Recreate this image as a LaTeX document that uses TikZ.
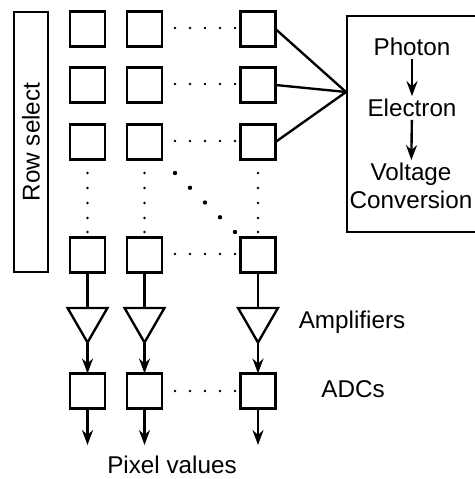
\documentclass[tikz,border=0pt]{standalone}
\usepackage{fontspec}
\setmainfont{Liberation Sans}
\usetikzlibrary{arrows.meta,positioning,shapes.geometric}

\begin{document}
\begin{tikzpicture}[x=0.02cm, y=-0.02cm, line width=1.35pt,
    font=\fontsize{13.8}{16}\selectfont,
    pix/.style={draw, minimum size=0.7cm, inner sep=0pt, outer sep=0pt},
    amp/.style={draw, regular polygon, regular polygon sides=3, shape border rotate=180,
                minimum size=0.92cm, inner sep=0pt, outer sep=0pt},
    sig/.style={-{Stealth[length=0.3cm, width=0.22cm, inset=0.1cm]}}]

    \useasboundingbox (0,0) rectangle (475,479);

    % Row select bar
    \node[draw, rotate=90, minimum width=5.2cm, minimum height=0.68cm, inner sep=0pt] (rowsel) at (31,142) {Row select};

    % Pixel array (4 rows x 3 columns)
    \foreach \col/\px in {1/87.5, 2/144.5, 3/258} {
      \foreach \row/\py in {1/29, 2/85, 3/142, 4/255}
        \node[pix] (p\row\col) at (\px,\py) {};
    }

    % Amplifiers and ADCs per column
    \foreach \col/\px in {1/87.5, 2/144.5, 3/258} {
      \node[amp] (amp\col) at (\px,319.5) {};
      \node[pix] (adc\col) at (\px,391) {};
      \coordinate (out\col) at (\px,445);
      \draw (p4\col.south) -- (amp\col.north);
      \draw[sig] (amp\col.south) -- (adc\col.north);
      \draw[sig] (adc\col.south) -- (out\col);
    }

    % Dots: skipped columns
    \foreach \py in {28, 84, 141, 254, 391}
      \foreach \px in {175, 190, 205, 220, 235}
        \fill (\px,\py) circle (0.8pt);

    % Dots: skipped rows
    \foreach \px in {87.5, 144.5, 258}
      \foreach \py in {173, 188, 203, 218, 232}
        \fill (\px,\py) circle (0.8pt);

    % Dots: diagonal
    \foreach \i in {0,...,4}
      \fill (175+15*\i,173+14.75*\i) circle (1.25pt);

    % Conversion box
    \node[draw, minimum width=2.7cm, minimum height=4.32cm, inner sep=0pt] (convbox) at (414.5,124) {};
    \node[inner sep=1pt] (photon) at (412,47) {Photon};
    \node[inner sep=1pt] (electron) at (412,108) {Electron};
    \node[inner sep=1pt, align=center] (voltage) at (411,186) {Voltage\\Conversion};
    \draw[sig] (photon) -- (electron);
    \draw[sig] (electron) -- (voltage);

    % Last column feeds the conversion box
    \coordinate (join) at (346,92);
    \foreach \row in {1,2,3}
      \draw (p\row3.east) -- (join);

    % Labels
    \node (amplbl) at (352,322) {Amplifiers};
    \node (adclbl) at (353,389) {ADCs};
    \node (pixlbl) at (172,465) {Pixel values};
\end{tikzpicture}
\end{document}
